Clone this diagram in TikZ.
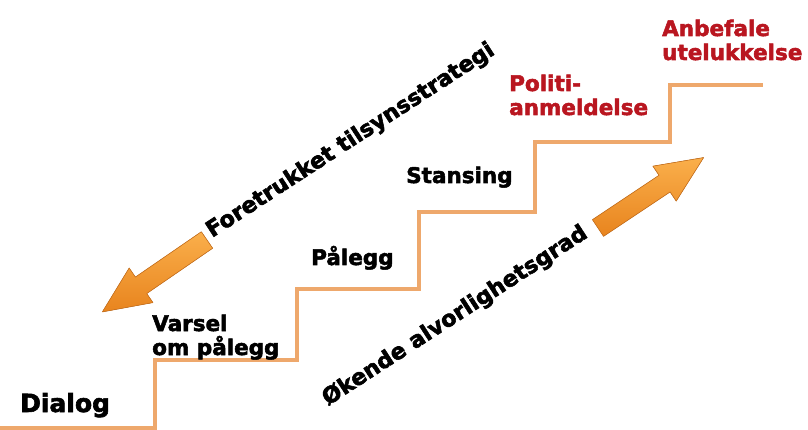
\documentclass[tikz,border=0pt]{standalone}
\usepackage{fontspec}
\setmainfont{DejaVu Sans}
\newfontfamily\heavyfont[FakeBold=2.4]{DejaVu Sans Bold}
\definecolor{stairor}{RGB}{238,168,108}
\definecolor{arrowlight}{RGB}{250,175,75}
\definecolor{arrowdark}{RGB}{232,132,30}
\definecolor{arrowedge}{RGB}{205,115,30}
\definecolor{redtxt}{RGB}{185,22,32}
\begin{document}
\begin{tikzpicture}[x=1pt,y=-1pt,
  stairline/.style={draw=stairor,line width=3.6pt,line join=miter},
  lbl/.style={font=\heavyfont\fontsize{21.5}{24}\selectfont,inner sep=0pt,align=left,text=black},
  redlbl/.style={lbl,text=redtxt},
  slanted/.style={font=\heavyfont\fontsize{22.3}{24}\selectfont,inner sep=0pt,anchor=base west,rotate=33},
  blockarrow/.pic={
    \fill[top color=arrowlight,bottom color=arrowdark,draw=arrowedge,line width=0.6pt,line join=round]
      (0,-10) -- (80,-10) -- (80,-21) -- (127,0) -- (80,21) -- (80,10) -- (0,10) -- cycle;
  }]
\useasboundingbox (0,0) rectangle (808,430);
% staircase
\draw[stairline] (0,428) -- (155,428) -- (155,360) -- (297,360) -- (297,289)
  -- (419,289) -- (419,212) -- (535,212) -- (535,142) -- (670,142) -- (670,85) -- (763,85);
% step labels
\node[lbl,anchor=base west,font=\heavyfont\fontsize{25}{28}\selectfont] (dialog) at (20,412) {Dialog};
\node[lbl,anchor=base west] (varsel) at (152,355) {Varsel\\om pålegg};
\node[lbl,anchor=base west] (palegg) at (311,265) {Pålegg};
\node[lbl,anchor=base west] (stansing) at (406,183) {Stansing};
\node[redlbl,anchor=base west] (politi) at (509,115) {Politi-\\anmeldelse};
\node[redlbl,anchor=base west] (anbefale) at (662,60) {Anbefale\\utelukkelse};
% slanted texts
\node[slanted] (foretrukket) at (212,238) {Foretrukket tilsynsstrategi};
\node[slanted] (okende) at (328,406) {Økende alvorlighetsgrad};
% arrows
\pic[rotate=214.5] (arrowleft) at (207,240) {blockarrow};
\pic[rotate=33.7] (arrowright) at (598,228) {blockarrow};
\end{tikzpicture}
\end{document}
